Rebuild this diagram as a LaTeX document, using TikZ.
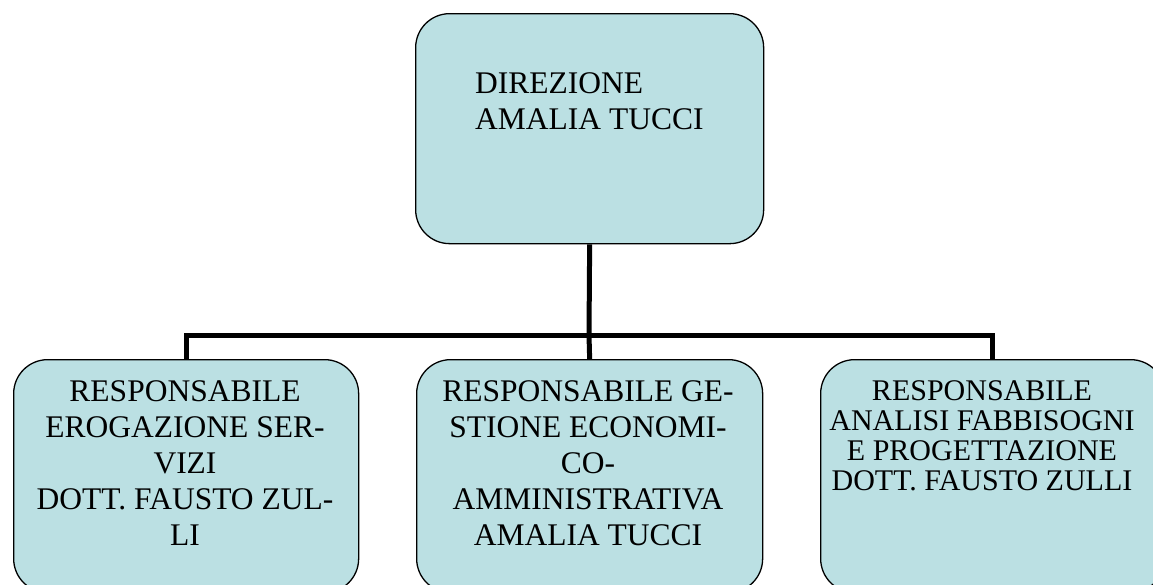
\documentclass[tikz,border=0pt]{standalone}
\usepackage{fontspec}
\setmainfont{Liberation Serif}
\definecolor{boxblue}{RGB}{187,224,227}

\tikzset{
  orgbox/.style  = {draw = black, line width = 1.3pt, fill = boxblue,
                    rounded corners = 34pt, inner sep = 0pt,
                    anchor = north west},
  orgtext/.style = {inner sep = 0pt, align = center, anchor = north,
                    font = \fontsize{31.5}{36}\selectfont},
  link/.style    = {line width = 5pt, black}
}

\begin{document}
\begin{tikzpicture}[x=1pt, y=-1pt]
\clip (0,0) rectangle (1153,584);
\useasboundingbox (0,0) rectangle (1153,584);

% level 0
\node[orgbox, minimum width=348pt, minimum height=230pt] (dir) at (415,13) {};
\node[orgtext, align=left, anchor=north west] (dirtext) at (475,72)
    {DIREZIONE\\AMALIA TUCCI};

% level 1
\node[orgbox, minimum width=345pt, minimum height=233pt] (resp1) at (13,359) {};
\node[orgtext] (resp1text) at (185,380.5)
    {RESPONSABILE\\EROGAZIONE SER-\\VIZI\\DOTT. FAUSTO ZUL-\\LI};
\node[orgbox, minimum width=346pt, minimum height=233pt] (resp2) at (416,359) {};
\node[orgtext] (resp2text) at (588,380.5)
    {RESPONSABILE GE-\\STIONE ECONOMI-\\CO-\\AMMINISTRATIVA\\AMALIA TUCCI};
\node[orgbox, minimum width=344pt, minimum height=233pt] (resp3) at (820,359) {};
\node[orgtext, font=\fontsize{30}{30}\selectfont] (resp3text) at (982,380.5)
    {RESPONSABILE\\ANALISI FABBISOGNI\\E PROGETTAZIONE\\DOTT. FAUSTO ZULLI};

% connectors
\coordinate (bus) at (589,335);
\draw[link] (dir.south) -- (bus);
\draw[link] (bus) -| (resp1.north);
\draw[link] (bus) -- (resp2.north);
\draw[link] (bus) -| (resp3.north);
\end{tikzpicture}
\end{document}
